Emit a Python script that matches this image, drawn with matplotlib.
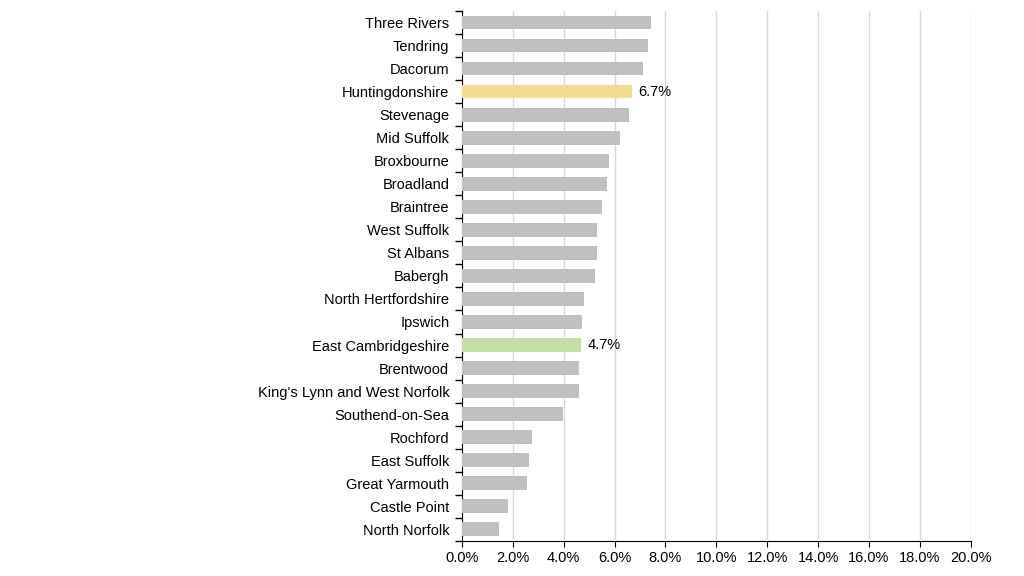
import numpy as np
import matplotlib.pyplot as plt
from matplotlib.ticker import PercentFormatter, FixedLocator

plt.rcParams['font.family'] = ['Liberation Sans', 'DejaVu Sans']

areas = ["Three Rivers", "Tendring", "Dacorum", "Huntingdonshire", "Stevenage",
         "Mid Suffolk", "Broxbourne", "Broadland", "Braintree", "West Suffolk",
         "St Albans", "Babergh", "North Hertfordshire", "Ipswich",
         "East Cambridgeshire", "Brentwood", "King's Lynn and West Norfolk",
         "Southend-on-Sea", "Rochford", "East Suffolk", "Great Yarmouth",
         "Castle Point", "North Norfolk"]
values = [7.44, 7.32, 7.11, 6.7, 6.56, 6.21, 5.79, 5.70, 5.51, 5.33, 5.33,
          5.25, 4.79, 4.72, 4.7, 4.62, 4.60, 3.99, 2.76, 2.63, 2.56, 1.81, 1.46]
highlight = {"Huntingdonshire": "#f3dc8e", "East Cambridgeshire": "#c4dea6"}
xticks = [0, 2, 4, 6, 8, 10, 12, 14, 16, 18, 20]

fig = plt.figure(figsize=(10.24, 5.76), dpi=100)
ax = fig.add_axes([0.451, 0.061, 0.497, 0.920])

y = np.arange(len(areas))[::-1]
colors = [highlight.get(a, "#c0c0c0") for a in areas]
ax.barh(y, values, height=0.6, color=colors, zorder=3)

for a, v, yy in zip(areas, values, y):
    if a in highlight:
        ax.text(v + 0.25, yy, f"{v:.1f}%", va='center', ha='left', fontsize=10.5)

ax.set_xlim(0, 20)
ax.set_ylim(-0.5, len(areas) - 0.5)
ax.set_xticks(xticks)
ax.xaxis.set_major_formatter(PercentFormatter(decimals=1))
ax.set_yticks(y)
ax.set_yticklabels(areas)
ax.tick_params(axis='y', length=0, labelsize=10.5, pad=9)
ax.tick_params(axis='x', length=4, labelsize=10.5, direction='out')
ax.yaxis.set_minor_locator(FixedLocator(np.arange(-0.5, len(areas), 1)))
ax.tick_params(axis='y', which='minor', length=5, width=1, direction='out')

ax.grid(axis='x', color='#d9d9d9', linewidth=1, zorder=0)
for s in ['top', 'right']:
    ax.spines[s].set_visible(False)
ax.spines['left'].set_color('black')
ax.spines['bottom'].set_color('black')

fig.savefig("out.png", dpi=100)
